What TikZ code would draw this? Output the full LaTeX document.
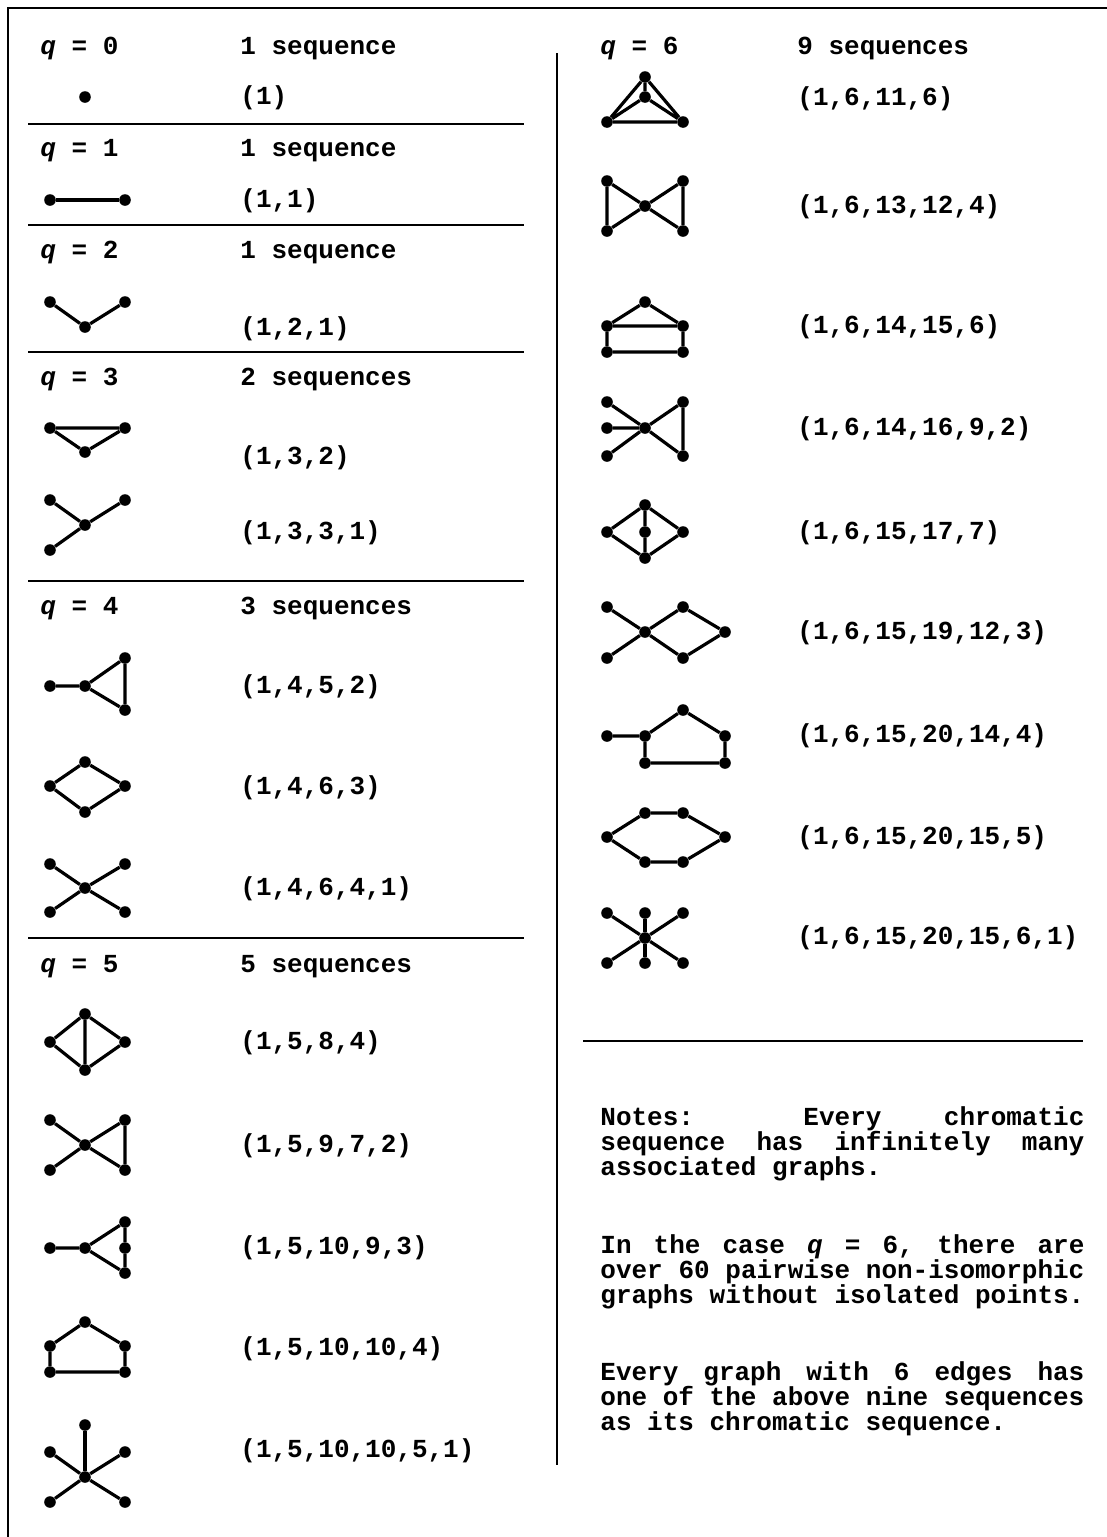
\documentclass[tikz,border=0pt]{standalone}
\usepackage{fontspec}
\setmonofont{Liberation Mono}
\usepackage{tikz}

\newcommand{\qv}{{\itshape q}}
\newcommand{\jline}[1]{\makebox[242pt][s]{\spaceskip=7.8pt plus 1fil\relax #1}}

\begin{document}
\begin{tikzpicture}[
  x=0.5pt, y=-0.5pt,
  dot/.style={circle, fill=black, inner sep=0pt, minimum size=5.8pt},
  link/.style={line width=1.6pt},
  rule/.style={line width=1.3pt},
  txt/.style={anchor=base west, inner sep=0pt, font=\ttfamily\bfseries\fontsize{13}{12.5}\selectfont}
]
  \useasboundingbox (0,0) rectangle (1107,1537);

  % frame and rules
  \draw[rule] (8,1537) -- (8,8) -- (1107,8);
  \draw[rule] (557,53) -- (557,1465);
  \foreach \y in {124,225,352,581,938}
    \draw[rule] (28,\y) -- (524,\y);
  \draw[rule] (583,1041) -- (1083,1041);

  % left column headings
  \node[txt] (h0) at (40,54) {\qv{} = 0};
  \node[txt] (c0) at (240,54) {1 sequence};
  \node[txt] (h1) at (40,156) {\qv{} = 1};
  \node[txt] (c1) at (240,156) {1 sequence};
  \node[txt] (h2) at (40,258) {\qv{} = 2};
  \node[txt] (c2) at (240,258) {1 sequence};
  \node[txt] (h3) at (40,385) {\qv{} = 3};
  \node[txt] (c3) at (240,385) {2 sequences};
  \node[txt] (h4) at (40,614) {\qv{} = 4};
  \node[txt] (c4) at (240,614) {3 sequences};
  \node[txt] (h5) at (40,972) {\qv{} = 5};
  \node[txt] (c5) at (240,972) {5 sequences};

  % left column sequences
  \node[txt] (s0) at (240,104) {(1)};
  \node[txt] (s1) at (240,207) {(1,1)};
  \node[txt] (s2) at (240,335) {(1,2,1)};
  \node[txt] (s3a) at (240,464) {(1,3,2)};
  \node[txt] (s3b) at (240,539) {(1,3,3,1)};
  \node[txt] (s4a) at (240,693) {(1,4,5,2)};
  \node[txt] (s4b) at (240,794) {(1,4,6,3)};
  \node[txt] (s4c) at (240,895) {(1,4,6,4,1)};
  \node[txt] (s5a) at (240,1049) {(1,5,8,4)};
  \node[txt] (s5b) at (240,1152) {(1,5,9,7,2)};
  \node[txt] (s5c) at (240,1254) {(1,5,10,9,3)};
  \node[txt] (s5d) at (240,1355) {(1,5,10,10,4)};
  \node[txt] (s5e) at (240,1457) {(1,5,10,10,5,1)};

  % right column
  \node[txt] (h6) at (600,54) {\qv{} = 6};
  \node[txt] (c6) at (797,54) {9 sequences};
  \node[txt] (s6a) at (797,105) {(1,6,11,6)};
  \node[txt] (s6b) at (797,213) {(1,6,13,12,4)};
  \node[txt] (s6c) at (797,333) {(1,6,14,15,6)};
  \node[txt] (s6d) at (797,435) {(1,6,14,16,9,2)};
  \node[txt] (s6e) at (797,539) {(1,6,15,17,7)};
  \node[txt] (s6f) at (797,639) {(1,6,15,19,12,3)};
  \node[txt] (s6g) at (797,742) {(1,6,15,20,14,4)};
  \node[txt] (s6h) at (797,844) {(1,6,15,20,15,5)};
  \node[txt] (s6i) at (797,944) {(1,6,15,20,15,6,1)};

  % notes
  \node[txt] (n1) at (600,1125) {\jline{Notes: Every chromatic}};
  \node[txt] (n2) at (600,1150) {\jline{sequence has infinitely many}};
  \node[txt] (n3) at (600,1175) {associated graphs.};
  \node[txt] (n4) at (600,1253) {\jline{In the case \qv{} = 6, there are}};
  \node[txt] (n5) at (600,1278) {\jline{over 60 pairwise non-isomorphic}};
  \node[txt] (n6) at (600,1303) {\jline{graphs without isolated points.}};
  \node[txt] (n7) at (600,1380) {\jline{Every graph with 6 edges has}};
  \node[txt] (n8) at (600,1405) {\jline{one of the above nine sequences}};
  \node[txt] (n9) at (600,1430) {as its chromatic sequence.};

  % q = 0 .. 3
  \node[dot] (p0) at (85,97) {};
  \node[dot] (e1a) at (50,200) {}; \node[dot] (e1b) at (125,200) {};
  \draw[link] (e1a) -- (e1b);
  \node[dot] (e2a) at (50,302) {}; \node[dot] (e2b) at (85,327) {}; \node[dot] (e2c) at (125,302) {};
  \draw[link] (e2a) -- (e2b) -- (e2c);
  \node[dot] (t3a) at (50,428) {}; \node[dot] (t3b) at (125,428) {}; \node[dot] (t3c) at (85,452) {};
  \draw[link] (t3a) -- (t3b) -- (t3c) -- (t3a);
  \node[dot] (y3a) at (50,500) {}; \node[dot] (y3b) at (125,500) {};
  \node[dot] (y3c) at (85,525) {}; \node[dot] (y3d) at (50,550) {};
  \draw[link] (y3a) -- (y3c) -- (y3b) (y3c) -- (y3d);

  % q = 4
  \node[dot] (k4a) at (50,686) {}; \node[dot] (k4b) at (85,686) {};
  \node[dot] (k4c) at (125,658) {}; \node[dot] (k4d) at (125,710) {};
  \draw[link] (k4a) -- (k4b) -- (k4c) -- (k4d) -- (k4b);
  \node[dot] (d4a) at (50,786) {}; \node[dot] (d4b) at (85,762) {};
  \node[dot] (d4c) at (125,786) {}; \node[dot] (d4d) at (85,812) {};
  \draw[link] (d4a) -- (d4b) -- (d4c) -- (d4d) -- (d4a);
  \node[dot] (x4a) at (50,864) {}; \node[dot] (x4b) at (125,864) {}; \node[dot] (x4c) at (85,888) {};
  \node[dot] (x4d) at (50,912) {}; \node[dot] (x4e) at (125,912) {};
  \draw[link] (x4a) -- (x4c) -- (x4e) (x4b) -- (x4c) -- (x4d);

  % q = 5
  \node[dot] (d5a) at (50,1042) {}; \node[dot] (d5b) at (85,1014) {};
  \node[dot] (d5c) at (125,1042) {}; \node[dot] (d5d) at (85,1070) {};
  \draw[link] (d5a) -- (d5b) -- (d5c) -- (d5d) -- (d5a) (d5b) -- (d5d);
  \node[dot] (w5a) at (50,1120) {}; \node[dot] (w5b) at (50,1170) {}; \node[dot] (w5c) at (85,1145) {};
  \node[dot] (w5d) at (125,1120) {}; \node[dot] (w5e) at (125,1170) {};
  \draw[link] (w5a) -- (w5c) -- (w5e) -- (w5d) -- (w5c) -- (w5b);
  \node[dot] (f5a) at (50,1248) {}; \node[dot] (f5b) at (85,1248) {}; \node[dot] (f5c) at (125,1222) {};
  \node[dot] (f5d) at (125,1248) {}; \node[dot] (f5e) at (125,1273) {};
  \draw[link] (f5a) -- (f5b) -- (f5c) -- (f5d) -- (f5e) -- (f5b);
  \node[dot] (h5a) at (85,1322) {}; \node[dot] (h5b) at (50,1346) {}; \node[dot] (h5c) at (125,1346) {};
  \node[dot] (h5d) at (50,1372) {}; \node[dot] (h5e) at (125,1372) {};
  \draw[link] (h5a) -- (h5b) -- (h5d) -- (h5e) -- (h5c) -- (h5a);
  \node[dot] (s5a) at (85,1425) {}; \node[dot] (s5b) at (50,1452) {}; \node[dot] (s5c) at (125,1452) {};
  \node[dot] (s5d) at (85,1477) {}; \node[dot] (s5e) at (50,1502) {}; \node[dot] (s5f) at (125,1502) {};
  \foreach \v in {s5a,s5b,s5c,s5e,s5f}
    \draw[link] (s5d) -- (\v);

  % q = 6
  \node[dot] (k6a) at (645,77) {}; \node[dot] (k6b) at (645,97) {};
  \node[dot] (k6c) at (607,122) {}; \node[dot] (k6d) at (683,122) {};
  \draw[link] (k6a) -- (k6c) -- (k6d) -- (k6a) -- (k6b) (k6c) -- (k6b) -- (k6d);
  \node[dot] (b6a) at (607,181) {}; \node[dot] (b6b) at (607,231) {}; \node[dot] (b6c) at (645,206) {};
  \node[dot] (b6d) at (683,181) {}; \node[dot] (b6e) at (683,231) {};
  \draw[link] (b6a) -- (b6b) -- (b6c) -- (b6a) (b6c) -- (b6d) -- (b6e) -- (b6c);
  \node[dot] (c6a) at (645,302) {}; \node[dot] (c6b) at (607,326) {}; \node[dot] (c6c) at (683,326) {};
  \node[dot] (c6d) at (607,352) {}; \node[dot] (c6e) at (683,352) {};
  \draw[link] (c6a) -- (c6b) -- (c6c) -- (c6a) (c6b) -- (c6d) -- (c6e) -- (c6c);
  \node[dot] (e6a) at (607,402) {}; \node[dot] (e6b) at (607,428) {}; \node[dot] (e6c) at (607,456) {};
  \node[dot] (e6d) at (645,428) {}; \node[dot] (e6e) at (683,402) {}; \node[dot] (e6f) at (683,456) {};
  \draw[link] (e6a) -- (e6d) -- (e6c) (e6b) -- (e6d) -- (e6e) -- (e6f) -- (e6d);
  \node[dot] (g6a) at (645,505) {}; \node[dot] (g6b) at (607,532) {}; \node[dot] (g6c) at (645,532) {};
  \node[dot] (g6d) at (683,532) {}; \node[dot] (g6e) at (645,558) {};
  \draw[link] (g6a) -- (g6b) -- (g6e) -- (g6d) -- (g6a) -- (g6c) -- (g6e);
  \node[dot] (f6a) at (607,607) {}; \node[dot] (f6b) at (607,658) {}; \node[dot] (f6c) at (645,632) {};
  \node[dot] (f6d) at (683,607) {}; \node[dot] (f6e) at (683,658) {}; \node[dot] (f6f) at (725,632) {};
  \draw[link] (f6a) -- (f6c) -- (f6e) -- (f6f) -- (f6d) -- (f6c) -- (f6b);
  \node[dot] (j6a) at (607,736) {}; \node[dot] (j6b) at (645,736) {}; \node[dot] (j6c) at (683,710) {};
  \node[dot] (j6d) at (725,736) {}; \node[dot] (j6e) at (645,763) {}; \node[dot] (j6f) at (725,763) {};
  \draw[link] (j6a) -- (j6b) -- (j6c) -- (j6d) -- (j6f) -- (j6e) -- (j6b);
  \node[dot] (x6a) at (607,837) {}; \node[dot] (x6b) at (645,813) {}; \node[dot] (x6c) at (683,813) {};
  \node[dot] (x6d) at (725,837) {}; \node[dot] (x6e) at (683,862) {}; \node[dot] (x6f) at (645,862) {};
  \draw[link] (x6a) -- (x6b) -- (x6c) -- (x6d) -- (x6e) -- (x6f) -- (x6a);
  \node[dot] (z6a) at (607,913) {}; \node[dot] (z6b) at (645,913) {}; \node[dot] (z6c) at (683,913) {};
  \node[dot] (z6d) at (645,938) {};
  \node[dot] (z6e) at (607,963) {}; \node[dot] (z6f) at (645,963) {}; \node[dot] (z6g) at (683,963) {};
  \foreach \v in {z6a,z6b,z6c,z6e,z6f,z6g}
    \draw[link] (z6d) -- (\v);
\end{tikzpicture}
\end{document}
